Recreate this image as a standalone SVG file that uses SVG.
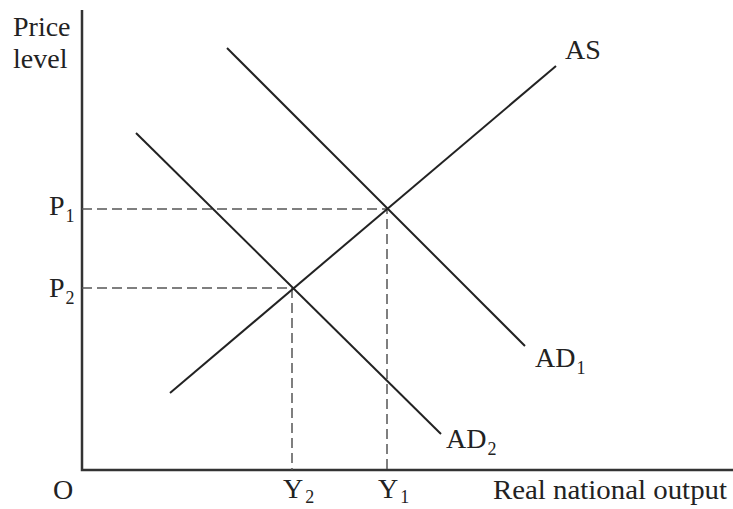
<svg xmlns="http://www.w3.org/2000/svg" width="733" height="509" viewBox="0 0 733 509">
<style>
text{font-family:"Liberation Serif","Times New Roman",serif;font-size:28px;fill:#222}
.sub{font-size:18px}
.axis{stroke:#333;stroke-width:2.5;fill:none}
.curve{stroke:#222;stroke-width:2;fill:none}
.guide{stroke:#555;stroke-width:1.5;stroke-dasharray:10 5;fill:none}
</style>
<rect width="733" height="509" fill="#fff"/>
<g id="axes">
<path class="axis" d="M82,10 V470 H733"/>
<text x="13" y="36">Price</text>
<text x="13" y="68">level</text>
<text x="53" y="499">O</text>
<text x="493" y="499" textLength="234" lengthAdjust="spacingAndGlyphs">Real national output</text>
</g>
<g id="guides">
<path class="guide" d="M82,209 H387 V470"/>
<path class="guide" d="M82,288 H292 V470"/>
</g>
<g id="AS">
<path class="curve" d="M170,393 L556,66"/>
<text x="565" y="59">AS</text>
</g>
<g id="AD1">
<path class="curve" d="M227,48 L525,346"/>
<text x="535" y="367">AD<tspan class="sub" dx="1" dy="7">1</tspan></text>
</g>
<g id="AD2">
<path class="curve" d="M136,133 L441,434"/>
<text x="446" y="448">AD<tspan class="sub" dx="1" dy="7">2</tspan></text>
</g>
<g id="labels">
<text x="49" y="215">P<tspan class="sub" dx="1" dy="7">1</tspan></text>
<text x="49" y="297">P<tspan class="sub" dx="1" dy="7">2</tspan></text>
<text x="283" y="498">Y<tspan class="sub" dx="2" dy="5">2</tspan></text>
<text x="378" y="498">Y<tspan class="sub" dx="2" dy="5">1</tspan></text>
</g>
</svg>
